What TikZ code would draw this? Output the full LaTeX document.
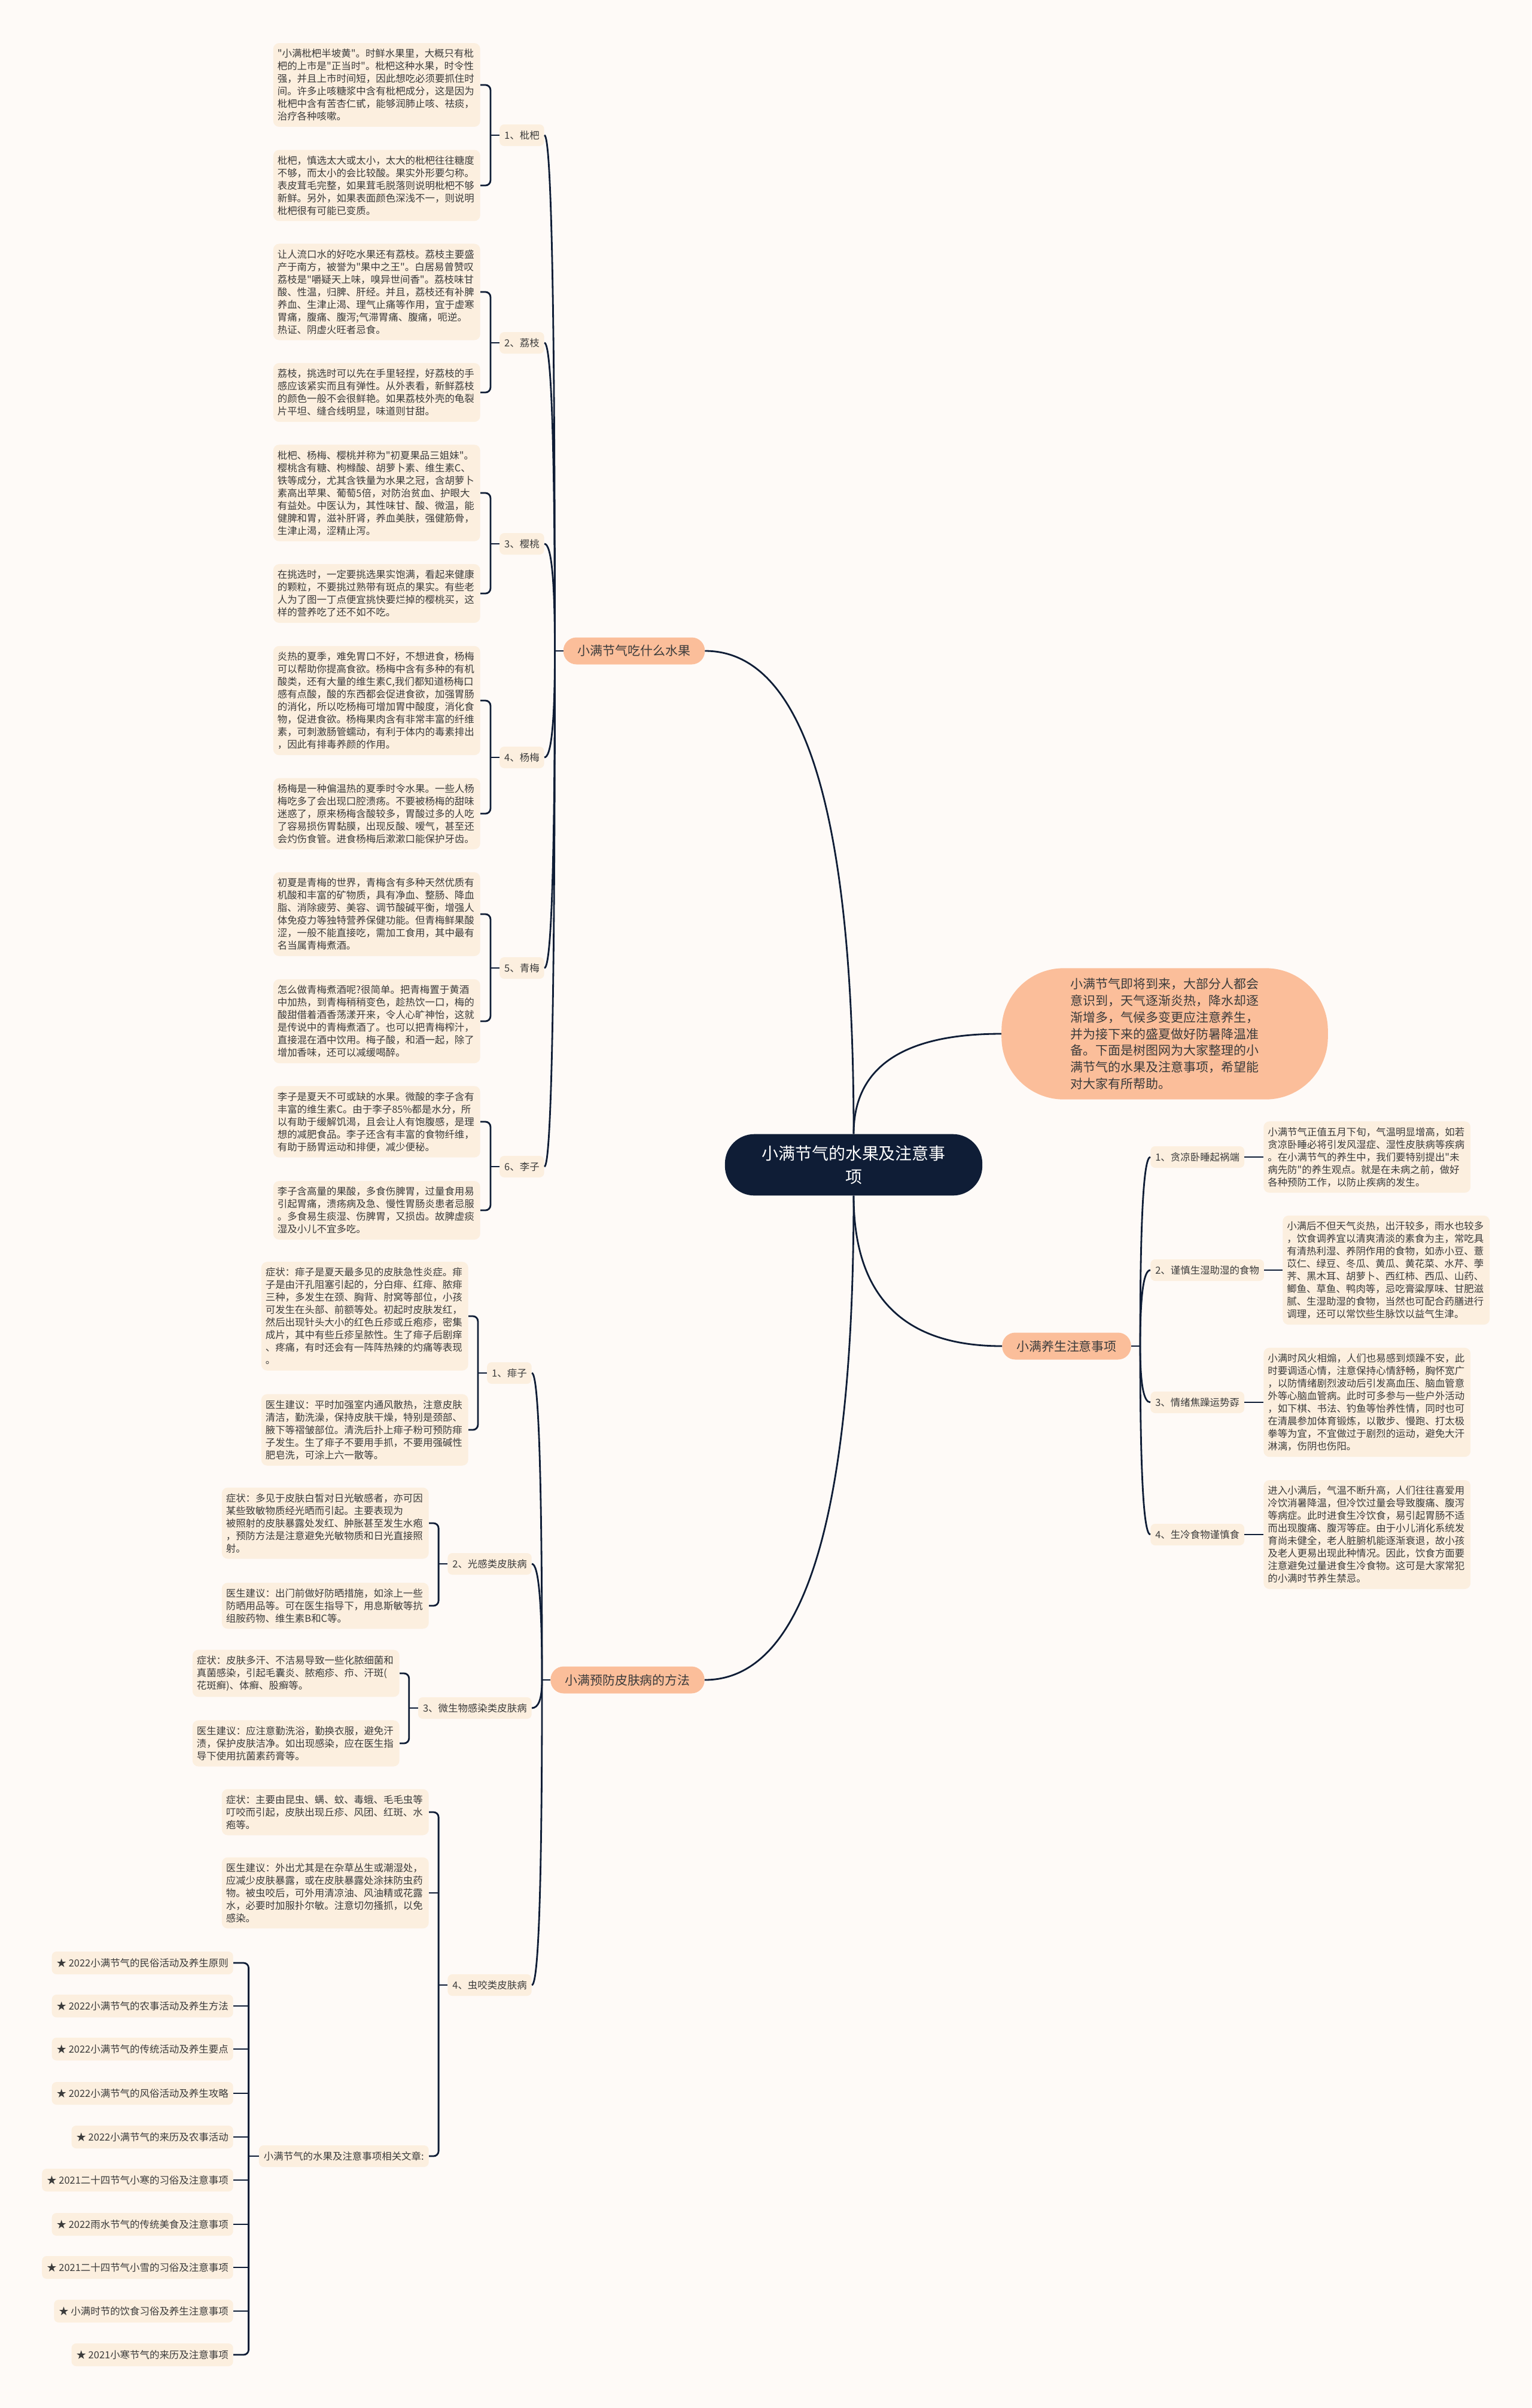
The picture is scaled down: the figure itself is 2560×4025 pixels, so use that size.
\documentclass[tikz,border=0pt]{standalone}
\usepackage{fontspec}
\usetikzlibrary{calc, positioning}
\newfontfamily\cjkfont{Noto Sans CJK SC}
\definecolor{PageBg}{HTML}{FEFAF7}
\definecolor{NavyRoot}{HTML}{0F1D36}
\definecolor{PeachTopic}{HTML}{FBBE9A}
\definecolor{CreamBox}{HTML}{FCEFDF}
\definecolor{InkText}{HTML}{3B3B3B}
\tikzset{
  rootnode/.style={fill=NavyRoot, text=white, rounded corners=35pt, minimum width=306pt, minimum height=73pt, align=center, font=\cjkfont\fontsize{19.9pt}{27.7pt}\selectfont},
  intronode/.style={fill=PeachTopic, text=InkText, rounded corners=74pt, minimum width=388pt, minimum height=156pt, align=left, font=\cjkfont\fontsize{14.9pt}{19.9pt}\selectfont},
  topic/.style={fill=PeachTopic, text=InkText, rounded corners=15.5pt, minimum height=32pt, inner xsep=17pt, font=\cjkfont\fontsize{14.9pt}{18pt}\selectfont},
  sub/.style={fill=CreamBox, text=InkText, rounded corners=5.5pt, minimum height=25.6pt, inner xsep=5.7pt, font=\cjkfont\fontsize{11.7pt}{14.9pt}\selectfont},
  article/.style={sub, minimum height=27pt, anchor=east},
  note/.style={fill=CreamBox, text=InkText, rounded corners=7pt, text width=236pt, align=left, inner xsep=5pt, inner ysep=7pt, font=\cjkfont\fontsize{11.7pt}{14.94pt}\selectfont},
  link/.style={draw=NavyRoot, line width=2pt},
  brace/.style={link, rounded corners=6pt},
  vcurve/.style={to path={.. controls ($(\tikztostart)!0.667!(\tikztostart|-\tikztotarget)$) and ($(\tikztotarget)!0.667!(\tikztostart|-\tikztotarget)$) .. (\tikztotarget)}}
}

\begin{document}
\begin{tikzpicture}[x=0.025cm, y=-0.025cm]
  \fill[PageBg] (0,0) rectangle (2560,4025);
  \useasboundingbox (0,0) rectangle (2560,4025);

  % centre and introduction
  \node[rootnode] (root) at (1427,1947) {小满节气的水果及注意事\\项};
  \node[intronode] (intro) at (1947,1728) {小满节气即将到来，大部分人都会\\意识到，天气逐渐炎热，降水却逐\\渐增多，气候多变更应注意养生，\\并为接下来的盛夏做好防暑降温准\\备。下面是树图网为大家整理的小\\满节气的水果及注意事项，希望能\\对大家有所帮助。};

  % main branches
  \node[topic] (fruit) at (1060,1088) {小满节气吃什么水果};
  \node[topic] (care) at (1783,2250) {小满养生注意事项};
  \node[topic] (skin) at (1049,2808) {小满预防皮肤病的方法};

  % fruits
  \node[sub, anchor=east] (pipa) at (910,226) {1、枇杷};
  \node[sub, anchor=east] (lizhi) at (910,573) {2、荔枝};
  \node[sub, anchor=east] (yingtao) at (910,909) {3、樱桃};
  \node[sub, anchor=east] (yangmei) at (910,1266) {4、杨梅};
  \node[sub, anchor=east] (qingmei) at (910,1618) {5、青梅};
  \node[sub, anchor=east] (lizi) at (910,1950) {6、李子};

  \node[note, anchor=east] (pipaA) at (803,142) {"小满枇杷半坡黄"。时鲜水果里，大概只有枇\\杷的上市是"正当时"。枇杷这种水果，时令性\\强，并且上市时间短，因此想吃必须要抓住时\\间。许多止咳糖浆中含有枇杷成分，这是因为\\枇杷中含有苦杏仁甙，能够润肺止咳、祛痰，\\治疗各种咳嗽。};
  \node[note, anchor=east] (pipaB) at (803,310) {枇杷，慎选太大或太小，太大的枇杷往往糖度\\不够，而太小的会比较酸。果实外形要匀称。\\表皮茸毛完整，如果茸毛脱落则说明枇杷不够\\新鲜。另外，如果表面颜色深浅不一，则说明\\枇杷很有可能已变质。};
  \node[note, anchor=east] (lizhiA) at (803,488) {让人流口水的好吃水果还有荔枝。荔枝主要盛\\产于南方，被誉为"果中之王"。白居易曾赞叹\\荔枝是"嚼疑天上味，嗅异世间香"。荔枝味甘\\酸、性温，归脾、肝经。并且，荔枝还有补脾\\养血、生津止渴、理气止痛等作用，宜于虚寒\\胃痛，腹痛、腹泻;气滞胃痛、腹痛，呃逆。\\热证、阴虚火旺者忌食。};
  \node[note, anchor=east] (lizhiB) at (803,656) {荔枝，挑选时可以先在手里轻捏，好荔枝的手\\感应该紧实而且有弹性。从外表看，新鲜荔枝\\的颜色一般不会很鲜艳。如果荔枝外壳的龟裂\\片平坦、缝合线明显，味道则甘甜。};
  \node[note, anchor=east] (yingtaoA) at (803,824) {枇杷、杨梅、樱桃并称为"初夏果品三姐妹"。\\樱桃含有糖、枸橼酸、胡萝卜素、维生素C、\\铁等成分，尤其含铁量为水果之冠，含胡萝卜\\素高出苹果、葡萄5倍，对防治贫血、护眼大\\有益处。中医认为，其性味甘、酸、微温，能\\健脾和胃，滋补肝肾，养血美肤，强健筋骨，\\生津止渴，涩精止泻。};
  \node[note, anchor=east] (yingtaoB) at (803,992) {在挑选时，一定要挑选果实饱满，看起来健康\\的颗粒，不要挑过熟带有斑点的果实。有些老\\人为了图一丁点便宜挑快要烂掉的樱桃买，这\\样的营养吃了还不如不吃。};
  \node[note, anchor=east] (yangmeiA) at (803,1171) {炎热的夏季，难免胃口不好，不想进食，杨梅\\可以帮助你提高食欲。杨梅中含有多种的有机\\酸类，还有大量的维生素C,我们都知道杨梅口\\感有点酸，酸的东西都会促进食欲，加强胃肠\\的消化，所以吃杨梅可增加胃中酸度，消化食\\物，促进食欲。杨梅果肉含有非常丰富的纤维\\素，可刺激肠管蠕动，有利于体内的毒素排出\\，因此有排毒养颜的作用。};
  \node[note, anchor=east] (yangmeiB) at (803,1360) {杨梅是一种偏温热的夏季时令水果。一些人杨\\梅吃多了会出现口腔溃疡。不要被杨梅的甜味\\迷惑了，原来杨梅含酸较多，胃酸过多的人吃\\了容易损伤胃黏膜，出现反酸、嗳气，甚至还\\会灼伤食管。进食杨梅后漱漱口能保护牙齿。};
  \node[note, anchor=east] (qingmeiA) at (803,1528) {初夏是青梅的世界，青梅含有多种天然优质有\\机酸和丰富的矿物质，具有净血、整肠、降血\\脂、消除疲劳、美容、调节酸碱平衡，增强人\\体免疫力等独特营养保健功能。但青梅鲜果酸\\涩，一般不能直接吃，需加工食用，其中最有\\名当属青梅煮酒。};
  \node[note, anchor=east] (qingmeiB) at (803,1707) {怎么做青梅煮酒呢?很简单。把青梅置于黄酒\\中加热，到青梅稍稍变色，趁热饮一口，梅的\\酸甜借着酒香荡漾开来，令人心旷神怡，这就\\是传说中的青梅煮酒了。也可以把青梅榨汁，\\直接混在酒中饮用。梅子酸，和酒一起，除了\\增加香味，还可以减缓喝醉。};
  \node[note, anchor=east] (liziA) at (803,1875) {李子是夏天不可或缺的水果。微酸的李子含有\\丰富的维生素C。由于李子85\%都是水分，所\\以有助于缓解饥渴，且会让人有饱腹感，是理\\想的减肥食品。李子还含有丰富的食物纤维，\\有助于肠胃运动和排便，减少便秘。};
  \node[note, anchor=east] (liziB) at (803,2023) {李子含高量的果酸，多食伤脾胃，过量食用易\\引起胃痛，溃疡病及急、慢性胃肠炎患者忌服\\。多食易生痰湿、伤脾胃，又损齿。故脾虚痰\\湿及小儿不宜多吃。};

  % care
  \node[sub, anchor=west] (tanliang) at (1923,1934) {1、贪凉卧睡起祸端};
  \node[sub, anchor=west] (shire) at (1923,2123) {2、谨慎生湿助湿的食物};
  \node[sub, anchor=west] (qingxu) at (1923,2344) {3、情绪焦躁运势孬};
  \node[sub, anchor=west] (shengleng) at (1923,2565) {4、生冷食物谨慎食};

  \node[note, anchor=west] (tanliangA) at (2112,1934) {小满节气正值五月下旬，气温明显增高，如若\\贪凉卧睡必将引发风湿症、湿性皮肤病等疾病\\。在小满节气的养生中，我们要特别提出"未\\病先防"的养生观点。就是在未病之前，做好\\各种预防工作，以防止疾病的发生。};
  \node[note, anchor=west] (shireA) at (2144,2123) {小满后不但天气炎热，出汗较多，雨水也较多\\，饮食调养宜以清爽清淡的素食为主，常吃具\\有清热利湿、养阴作用的食物，如赤小豆、薏\\苡仁、绿豆、冬瓜、黄瓜、黄花菜、水芹、荸\\荠、黑木耳、胡萝卜、西红柿、西瓜、山药、\\鲫鱼、草鱼、鸭肉等，忌吃膏粱厚味、甘肥滋\\腻、生湿助湿的食物，当然也可配合药膳进行\\调理，还可以常饮些生脉饮以益气生津。};
  \node[note, anchor=west] (qingxuA) at (2112,2344) {小满时风火相煽，人们也易感到烦躁不安，此\\时要调适心情，注意保持心情舒畅，胸怀宽广\\，以防情绪剧烈波动后引发高血压、脑血管意\\外等心脑血管病。此时可多参与一些户外活动\\，如下棋、书法、钓鱼等怡养性情，同时也可\\在清晨参加体育锻炼，以散步、慢跑、打太极\\拳等为宜，不宜做过于剧烈的运动，避免大汗\\淋漓，伤阴也伤阳。};
  \node[note, anchor=west] (shenglengA) at (2112,2565) {进入小满后，气温不断升高，人们往往喜爱用\\冷饮消暑降温，但冷饮过量会导致腹痛、腹泻\\等病症。此时进食生冷饮食，易引起胃肠不适\\而出现腹痛、腹泻等症。由于小儿消化系统发\\育尚未健全，老人脏腑机能逐渐衰退，故小孩\\及老人更易出现此种情况。因此，饮食方面要\\注意避免过量进食生冷食物。这可是大家常犯\\的小满时节养生禁忌。};

  % skin
  \node[sub, anchor=east] (feizi) at (889,2295) {1、痱子};
  \node[sub, anchor=east] (guanggan) at (889,2614) {2、光感类皮肤病};
  \node[sub, anchor=east] (weisheng) at (889,2855) {3、微生物感染类皮肤病};
  \node[sub, anchor=east] (chongyao) at (889,3318) {4、虫咬类皮肤病};

  \node[note, anchor=east] (feiziA) at (783,2200) {症状：痱子是夏天最多见的皮肤急性炎症。痱\\子是由汗孔阻塞引起的，分白痱、红痱、脓痱\\三种，多发生在颈、胸背、肘窝等部位，小孩\\可发生在头部、前额等处。初起时皮肤发红，\\然后出现针头大小的红色丘疹或丘疱疹，密集\\成片，其中有些丘疹呈脓性。生了痱子后剧痒\\、疼痛，有时还会有一阵阵热辣的灼痛等表现\\。};
  \node[note, anchor=east] (feiziB) at (783,2390) {医生建议：平时加强室内通风散热，注意皮肤\\清洁，勤洗澡，保持皮肤干燥，特别是颈部、\\腋下等褶皱部位。清洗后扑上痱子粉可预防痱\\子发生。生了痱子不要用手抓，不要用强碱性\\肥皂洗，可涂上六一散等。};
  \node[note, anchor=east] (guangganA) at (717,2546) {症状：多见于皮肤白皙对日光敏感者，亦可因\\某些致敏物质经光晒而引起。主要表现为\\被照射的皮肤暴露处发红、肿胀甚至发生水疱\\，预防方法是注意避免光敏物质和日光直接照\\射。};
  \node[note, anchor=east] (guangganB) at (717,2684) {医生建议：出门前做好防晒措施，如涂上一些\\防晒用品等。可在医生指导下，用息斯敏等抗\\组胺药物、维生素B和C等。};
  \node[note, anchor=east] (weishengA) at (668,2797) {症状：皮肤多汗、不洁易导致一些化脓细菌和\\真菌感染，引起毛囊炎、脓疱疹、疖、汗斑(\\花斑癣)、体癣、股癣等。};
  \node[note, anchor=east] (weishengB) at (668,2914) {医生建议：应注意勤洗浴，勤换衣服，避免汗\\渍，保护皮肤洁净。如出现感染，应在医生指\\导下使用抗菌素药膏等。};
  \node[note, anchor=east] (chongyaoA) at (717,3029) {症状：主要由昆虫、螨、蚊、毒蛾、毛毛虫等\\叮咬而引起，皮肤出现丘疹、风团、红斑、水\\疱等。};
  \node[note, anchor=east] (chongyaoB) at (717,3164) {医生建议：外出尤其是在杂草丛生或潮湿处，\\应减少皮肤暴露，或在皮肤暴露处涂抹防虫药\\物。被虫咬后，可外用清凉油、风油精或花露\\水，必要时加服扑尔敏。注意切勿搔抓，以免\\感染。};
  \node[sub, anchor=east] (related) at (717,3604) {小满节气的水果及注意事项相关文章:};

  % related articles
  \node[article] (art1) at (390,3281) {★ 2022小满节气的民俗活动及养生原则};
  \node[article] (art2) at (390,3353) {★ 2022小满节气的农事活动及养生方法};
  \node[article] (art3) at (390,3425) {★ 2022小满节气的传统活动及养生要点};
  \node[article] (art4) at (390,3499) {★ 2022小满节气的风俗活动及养生攻略};
  \node[article] (art5) at (390,3572) {★ 2022小满节气的来历及农事活动};
  \node[article] (art6) at (390,3644) {★ 2021二十四节气小寒的习俗及注意事项};
  \node[article] (art7) at (390,3718) {★ 2022雨水节气的传统美食及注意事项};
  \node[article] (art8) at (390,3790) {★ 2021二十四节气小雪的习俗及注意事项};
  \node[article] (art9) at (390,3863) {★ 小满时节的饮食习俗及养生注意事项};
  \node[article] (art10) at (390,3936) {★ 2021小寒节气的来历及注意事项};

  % connectors from the centre
  \draw[link] (root.north) to[vcurve] (fruit.east);
  \draw[link] (root.north) to[vcurve] (intro.west);
  \draw[link] (root.south) to[vcurve] (care.west);
  \draw[link] (root.south) to[vcurve] (skin.east);

  % fruit branch
  \draw[link] (fruit.west) -- ++(-14,0) coordinate (fruitK);
  \draw[link] (fruitK) to[vcurve] (pipa.east);
  \draw[link] (fruitK) to[vcurve] (lizhi.east);
  \draw[link] (fruitK) to[vcurve] (yingtao.east);
  \draw[link] (fruitK) to[vcurve] (yangmei.east);
  \draw[link] (fruitK) to[vcurve] (qingmei.east);
  \draw[link] (fruitK) to[vcurve] (lizi.east);
  \draw[link] (pipa.west) -- ++(-15,0) coordinate (pipaK);
  \draw[brace] (pipaA.east) -| (pipaK) |- (pipaB.east);
  \draw[link] (lizhi.west) -- ++(-15,0) coordinate (lizhiK);
  \draw[brace] (lizhiA.east) -| (lizhiK) |- (lizhiB.east);
  \draw[link] (yingtao.west) -- ++(-15,0) coordinate (yingtaoK);
  \draw[brace] (yingtaoA.east) -| (yingtaoK) |- (yingtaoB.east);
  \draw[link] (yangmei.west) -- ++(-15,0) coordinate (yangmeiK);
  \draw[brace] (yangmeiA.east) -| (yangmeiK) |- (yangmeiB.east);
  \draw[link] (qingmei.west) -- ++(-15,0) coordinate (qingmeiK);
  \draw[brace] (qingmeiA.east) -| (qingmeiK) |- (qingmeiB.east);
  \draw[link] (lizi.west) -- ++(-15,0) coordinate (liziK);
  \draw[brace] (liziA.east) -| (liziK) |- (liziB.east);

  % care branch
  \draw[link] (care.east) -- ++(15,0) coordinate (careK);
  \draw[link] (careK) to[vcurve] (tanliang.west);
  \draw[link] (careK) to[vcurve] (shire.west);
  \draw[link] (careK) to[vcurve] (qingxu.west);
  \draw[link] (careK) to[vcurve] (shengleng.west);
  \draw[link] (tanliang.east) -- (tanliangA.west);
  \draw[link] (shire.east) -- (shireA.west);
  \draw[link] (qingxu.east) -- (qingxuA.west);
  \draw[link] (shengleng.east) -- (shenglengA.west);

  % skin branch
  \draw[link] (skin.west) -- ++(-14,0) coordinate (skinK);
  \draw[link] (skinK) to[vcurve] (feizi.east);
  \draw[link] (skinK) to[vcurve] (guanggan.east);
  \draw[link] (skinK) to[vcurve] (weisheng.east);
  \draw[link] (skinK) to[vcurve] (chongyao.east);
  \draw[link] (feizi.west) -- ++(-15,0) coordinate (feiziK);
  \draw[brace] (feiziA.east) -| (feiziK) |- (feiziB.east);
  \draw[link] (guanggan.west) -- ++(-15,0) coordinate (guangganK);
  \draw[brace] (guangganA.east) -| (guangganK) |- (guangganB.east);
  \draw[link] (weisheng.west) -- ++(-15,0) coordinate (weishengK);
  \draw[brace] (weishengA.east) -| (weishengK) |- (weishengB.east);
  \draw[link] (chongyao.west) -- ++(-15,0) coordinate (chongyaoK);
  \draw[brace] (chongyaoA.east) -| (chongyaoK) |- (related.east);
  \draw[link] (chongyaoK |- chongyaoB.east) -- (chongyaoB.east);

  % related list
  \draw[link] (related.west) -- ++(-17,0) coordinate (relatedK);
  \draw[brace] (art1.east) -| (relatedK) |- (art10.east);
  \draw[link] (relatedK |- art2.east) -- (art2.east);
  \draw[link] (relatedK |- art3.east) -- (art3.east);
  \draw[link] (relatedK |- art4.east) -- (art4.east);
  \draw[link] (relatedK |- art5.east) -- (art5.east);
  \draw[link] (relatedK |- art6.east) -- (art6.east);
  \draw[link] (relatedK |- art7.east) -- (art7.east);
  \draw[link] (relatedK |- art8.east) -- (art8.east);
  \draw[link] (relatedK |- art9.east) -- (art9.east);
\end{tikzpicture}
\end{document}
